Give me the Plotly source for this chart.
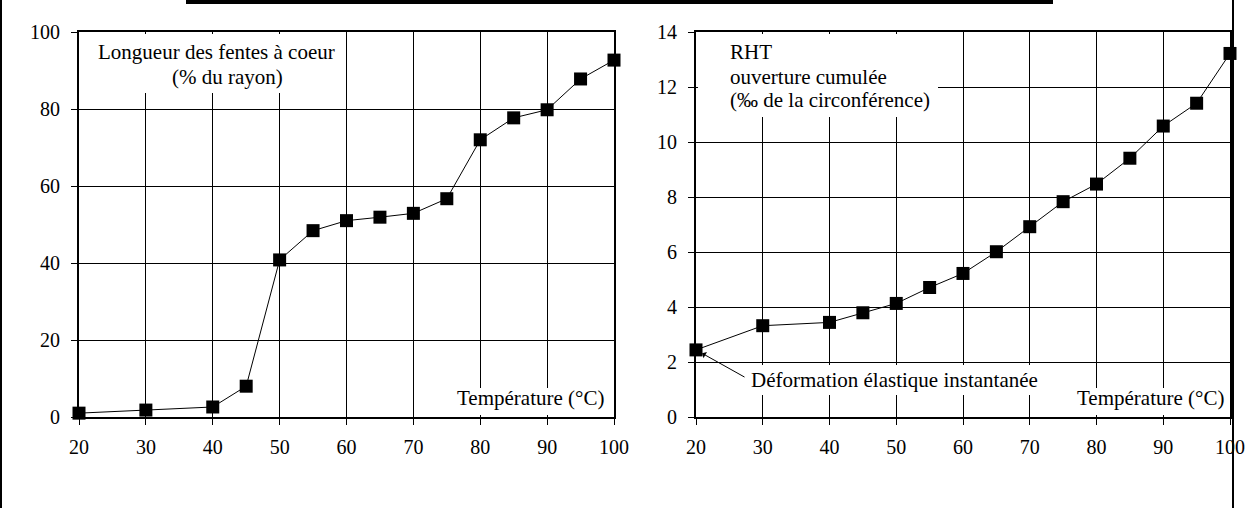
import plotly.graph_objects as go

# ---- data ----
temperatures = [20, 30, 40, 45, 50, 55, 60, 65, 70, 75, 80, 85, 90, 95, 100]
longueur_fentes = [1.0, 1.8, 2.6, 8.0, 40.8, 48.4, 51.0, 51.9, 52.9, 56.7, 72.0, 77.7, 79.8, 87.8, 92.7]
rht_ouverture = [2.44, 3.32, 3.44, 3.79, 4.13, 4.71, 5.22, 6.01, 6.92, 7.83, 8.47, 9.41, 10.58, 11.41, 13.22]
x_ticks = [20, 30, 40, 50, 60, 70, 80, 90, 100]
y1_ticks = [0, 20, 40, 60, 80, 100]
y2_ticks = [0, 2, 4, 6, 8, 10, 12, 14]

W, H = 1252, 508
FONT = "Liberation Serif"
FS = 20
FSA = 21

def fx(px):
    return px / W

def fy(py):
    return 1 - py / H

fig = go.Figure()
marker = dict(symbol="square", size=13, color="black")
line = dict(color="black", width=1)
fig.add_trace(go.Scatter(x=temperatures, y=longueur_fentes, mode="lines+markers",
                         marker=marker, line=line, xaxis="x", yaxis="y", cliponaxis=False))
fig.add_trace(go.Scatter(x=temperatures, y=rht_ouverture, mode="lines+markers",
                         marker=marker, line=line, xaxis="x2", yaxis="y2", cliponaxis=False))

axis_common = dict(showline=True, linecolor="black", linewidth=2, mirror=True,
                   showgrid=True, gridcolor="black", gridwidth=1, automargin=False,
                   ticks="outside", ticklen=6, tickcolor="black", tickwidth=1,
                   zeroline=False, tickfont=dict(family=FONT, size=FS, color="black"))

L0, L1 = 79, 614
R0, R1 = 696, 1230
T, B = 32, 417

fig.update_layout(
    width=W, height=H, margin=dict(l=0, r=0, t=0, b=0, autoexpand=False),
    paper_bgcolor="white", plot_bgcolor="white", showlegend=False,
    font=dict(family=FONT, size=FS, color="black"),
    xaxis=dict(domain=[fx(L0), fx(L1)], range=[20, 100], tickvals=x_ticks,
               anchor="y", ticklabelstandoff=5, **axis_common),
    yaxis=dict(domain=[fy(B), fy(T)], range=[0, 100], tickvals=y1_ticks,
               anchor="x", ticklabelstandoff=7, **axis_common),
    xaxis2=dict(domain=[fx(R0), fx(R1)], range=[20, 100], tickvals=x_ticks,
                anchor="y2", ticklabelstandoff=5, **axis_common),
    yaxis2=dict(domain=[fy(B), fy(T)], range=[0, 14], tickvals=y2_ticks,
                anchor="x2", ticklabelstandoff=7, **axis_common),
)

def dxl(px):
    return (px - L0) / (L1 - L0)

def dxr(px):
    return (px - R0) / (R1 - R0)

def dy(py):
    return (B - py) / (B - T)

# white boxes hiding the grid behind the labels (kept inside the frame)
boxes = [
    ("x domain", "y domain", dxl(95), dxl(340), dy(93), dy(T + 2)),
    ("x domain", "y domain", dxl(455), dxl(L1 - 2), dy(388), dy(B - 2)),
    ("x2 domain", "y2 domain", dxr(R0 + 2), dxr(938), dy(117), dy(T + 2)),
    ("x2 domain", "y2 domain", dxr(1070), dxr(R1 - 2), dy(388), dy(B - 2)),
    ("x2 domain", "y2 domain", dxr(745), dxr(1038), dy(395), dy(365)),
]
for xr, yr, x0, x1, y0, y1 in boxes:
    fig.add_shape(type="rect", xref=xr, yref=yr, x0=x0, x1=x1, y0=y0, y1=y1,
                  fillcolor="white", line=dict(width=0), layer="above")

def txt(text, xr, yr, x, y, xanchor):
    fig.add_annotation(text=text, xref=xr, yref=yr, x=x, y=y, xanchor=xanchor,
                       yanchor="middle", showarrow=False,
                       font=dict(family=FONT, size=FSA, color="black"))

txt("Longueur des fentes à coeur", "x domain", "y domain", dxl(216.5), dy(52), "center")
txt("(% du rayon)", "x domain", "y domain", dxl(227), dy(77), "center")
txt("Température (°C)", "x domain", "y domain", dxl(606), dy(398), "right")
txt("RHT", "x2 domain", "y2 domain", dxr(728), dy(52), "left")
txt("ouverture cumulée", "x2 domain", "y2 domain", dxr(728), dy(77), "left")
txt("(‰ de la circonférence)", "x2 domain", "y2 domain", dxr(728), dy(100), "left")
txt("Température (°C)", "x2 domain", "y2 domain", dxr(1226), dy(398), "right")
txt("Déformation élastique instantanée", "x2 domain", "y2 domain", dxr(749), dy(380), "left")

# arrow to the first RHT point
fig.add_annotation(x=temperatures[0], y=rht_ouverture[0], xref="x2", yref="y2",
                   text="", showarrow=True, ax=50, ay=28, axref="pixel", ayref="pixel",
                   arrowhead=1, arrowsize=1.2, arrowwidth=1, arrowcolor="black", standoff=7)

# page frame lines
fig.add_shape(type="line", xref="paper", yref="paper", x0=fx(1), x1=fx(1), y0=0, y1=1,
              line=dict(color="black", width=2))
fig.add_shape(type="line", xref="paper", yref="paper", x0=fx(1233), x1=fx(1233), y0=0, y1=1,
              line=dict(color="black", width=2))
fig.add_shape(type="line", xref="paper", yref="paper", x0=fx(186), x1=fx(1053), y0=fy(2), y1=fy(2),
              line=dict(color="black", width=4))

fig.write_html("out.html", config={"displayModeBar": False},
               post_script="document.body.style.margin='0px';")
